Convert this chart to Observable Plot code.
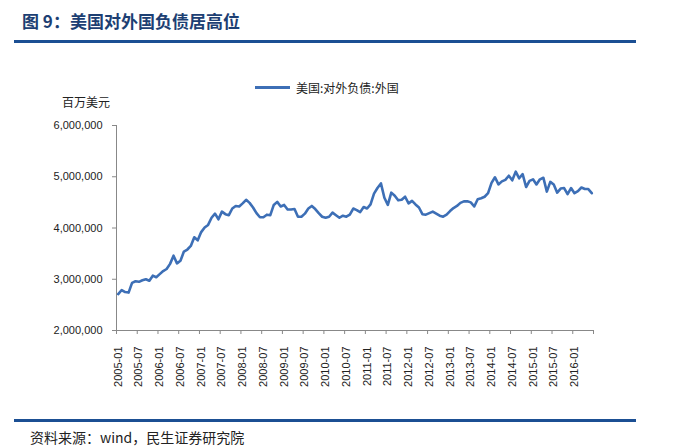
<!DOCTYPE html>
<html>
<head>
<meta charset="utf-8">
<script src="https://cdn.jsdelivr.net/npm/d3@7"></script>
<script src="https://cdn.jsdelivr.net/npm/@observablehq/plot@0.6"></script>
<style>
  html, body { margin: 0; padding: 0; background: #fff; }
  #wrap { position: relative; width: 675px; height: 448px; overflow: hidden; font-family: "Liberation Sans", "Noto Sans CJK SC", sans-serif; }
  #chart { position: absolute; left: 0; top: 0; }
  .abs { position: absolute; white-space: nowrap; }
  #title { left: 22px; top: 8px; font-size: 17px; font-weight: bold; color: #1d3f73; font-family: "Noto Sans CJK SC", serif; }
  .rule { position: absolute; left: 14px; width: 622px; height: 3px; background: #1b4f93; }
  #footer { left: 30px; top: 427px; font-size: 14px; color: #222; font-family: "Noto Sans CJK SC", "DejaVu Sans Mono", monospace; }
  #unit { left: 62px; top: 93px; font-size: 12px; color: #222; font-family: "Noto Sans CJK SC", sans-serif; }
  #legend { left: 255px; top: 79px; font-size: 12px; color: #222; font-family: "Noto Sans CJK SC", sans-serif; display: flex; align-items: center; }
  #legend .sw { display: inline-block; width: 35px; height: 2.5px; background: #3d6fb6; margin-right: 6px; }
</style>
</head>
<body>
<div id="wrap">
  <div id="chart"></div>
  <div id="title" class="abs">图 9：美国对外国负债居高位</div>
  <div class="rule" style="top:40px"></div>
  <div id="legend" class="abs"><span class="sw"></span><span>美国:对外负债:外国</span></div>
  <div id="unit" class="abs">百万美元</div>
  <div class="rule" style="top:419px"></div>
  <div id="footer" class="abs">资料来源：wind，民生证券研究院</div>
</div>
<script>
// Category axis: monthly from 2005-01 to 2016-06
const startYear = 2005;
const monthCount = 138;
const months = [];
for (let k = 0; k < monthCount; k++) {
  const y = startYear + Math.floor(k / 12), m = (k % 12) + 1;
  months.push(y + "-" + String(m).padStart(2, "0"));
}

// Tick labels shown on the x axis
const tickLabels = ["2005-01","2005-07","2006-01","2006-07","2007-01","2007-07","2008-01","2008-07",
  "2009-01","2009-07","2010-01","2010-07","2011-01","2011-07","2012-01","2012-07",
  "2013-01","2013-07","2014-01","2014-07","2015-01","2015-07","2016-01"];

// Y axis ticks
const yTicks = [2000000, 3000000, 4000000, 5000000, 6000000];

// 美国:对外负债:外国 (百万美元)
const values = [
  2710000, 2790000, 2750000, 2740000, 2930000, 2960000, 2950000, 2980000, 3000000, 2970000,
  3070000, 3040000, 3100000, 3160000, 3200000, 3300000, 3460000, 3310000, 3360000, 3540000,
  3580000, 3650000, 3820000, 3760000, 3920000, 4010000, 4060000, 4200000, 4280000, 4170000,
  4320000, 4270000, 4250000, 4380000, 4430000, 4420000, 4480000, 4550000, 4490000, 4400000,
  4290000, 4210000, 4210000, 4260000, 4250000, 4450000, 4510000, 4420000, 4450000, 4360000,
  4360000, 4370000, 4220000, 4220000, 4280000, 4380000, 4430000, 4370000, 4290000, 4220000,
  4200000, 4220000, 4300000, 4250000, 4200000, 4240000, 4220000, 4260000, 4380000, 4350000,
  4310000, 4410000, 4380000, 4460000, 4670000, 4780000, 4870000, 4590000, 4450000, 4690000,
  4630000, 4540000, 4550000, 4610000, 4480000, 4530000, 4460000, 4400000, 4270000, 4260000,
  4290000, 4320000, 4280000, 4240000, 4220000, 4260000, 4330000, 4390000, 4430000, 4490000,
  4520000, 4520000, 4500000, 4420000, 4560000, 4580000, 4610000, 4680000, 4880000, 4990000,
  4850000, 4910000, 4940000, 5020000, 4930000, 5100000, 4970000, 5050000, 4800000, 4920000,
  4950000, 4850000, 4950000, 4980000, 4710000, 4900000, 4850000, 4690000, 4770000, 4780000,
  4660000, 4780000, 4680000, 4720000, 4790000, 4760000, 4760000, 4680000
];

const data = months.map((m, i) => ({i, month: m, value: values[i]}));
const labelPos = tickLabels.map(l => months.indexOf(l));
const tickPos = d3.range(0, monthCount + 1, 6).map(k => k - 0.5);

const chart = Plot.plot({
  width: 675,
  height: 448,
  marginLeft: 116,
  marginRight: 82,
  marginTop: 125,
  marginBottom: 118,
  style: { fontFamily: "Liberation Sans, Arial, sans-serif", fontSize: "11px", color: "#222", background: "transparent" },
  x: { type: "linear", domain: [-0.5, monthCount - 0.5] },
  y: { domain: [2000000, 6000000] },
  marks: [
    Plot.axisY({ ticks: yTicks, tickFormat: d3.format(","), tickSize: 4, tickPadding: 10, stroke: "#888", label: null, fontSize: 11 }),
    Plot.axisX({ ticks: tickPos, tickSize: 4, tickFormat: () => "", stroke: "#888", label: null }),
    Plot.axisX({ ticks: labelPos, tickSize: 0, tickPadding: 16, tickRotate: -90, tickFormat: i => months[i], label: null, fontSize: 11 }),
    Plot.ruleX([-0.5], { stroke: "#888" }),
    Plot.ruleY([2000000], { stroke: "#888" }),
    Plot.line(data, { x: "i", y: "value", stroke: "#3d6fb6", strokeWidth: 2.6, strokeLinejoin: "round" })
  ]
});
document.getElementById("chart").appendChild(chart);
</script>
</body>
</html>
